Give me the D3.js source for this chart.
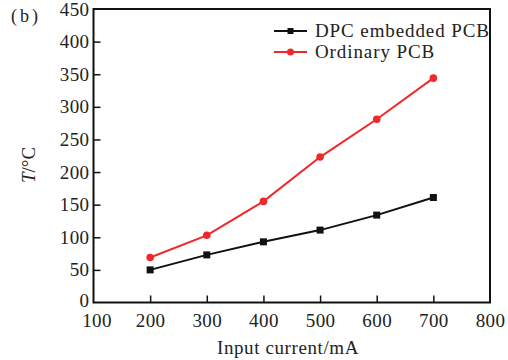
<!DOCTYPE html>
<html><head><meta charset="utf-8">
<script src="https://cdn.jsdelivr.net/npm/d3@7"></script>
<style>body{margin:0;background:#fff}svg{display:block}text{font-family:"Liberation Serif","DejaVu Serif",serif;fill:#222}</style>
</head><body><svg id="c" width="508" height="360"></svg>
<script>
const currents = [200, 300, 400, 500, 600, 700];
const dpcTemps = [50, 73, 93, 111, 134, 161];
const ordinaryTemps = [69, 103, 155, 223, 281, 344];
const xTicks = [100, 200, 300, 400, 500, 600, 700, 800];
const yTicks = [0, 50, 100, 150, 200, 250, 300, 350, 400, 450];
const seriesNames = ["DPC embedded PCB", "Ordinary PCB"];

const svg = d3.select("#c");
const L = 93.5, R = 490, T = 9, B = 302.5;
const x = d3.scaleLinear().domain([100, 800]).range([L, R]);
const y = d3.scaleLinear().domain([0, 450]).range([B, T]);

svg.append("rect").attr("x", L).attr("y", T).attr("width", R - L).attr("height", B - T)
  .attr("fill", "none").attr("stroke", "#111").attr("stroke-width", 2);

const xa = svg.append("g").attr("transform", `translate(0,${B})`)
  .call(d3.axisBottom(x).tickValues(xTicks).tickSizeInner(-7).tickSizeOuter(0).tickPadding(10));
xa.select(".domain").remove();
xa.selectAll(".tick line").attr("stroke", "#111").attr("stroke-width", 1.5)
  .filter(d => d === 100 || d === 800).remove();
xa.selectAll(".tick text").attr("font-size", 19).attr("fill", "#222")
  .attr("font-family", "Liberation Serif, serif").attr("letter-spacing", 0.4).attr("dy", "0.78em");
xa.selectAll(".tick text").filter(d => d === 100).attr("dx", 3);

const ya = svg.append("g").attr("transform", `translate(${L},0)`)
  .call(d3.axisLeft(y).tickValues(yTicks).tickSizeInner(-7).tickSizeOuter(0).tickPadding(4));
ya.select(".domain").remove();
ya.selectAll(".tick line").attr("stroke", "#111").attr("stroke-width", 1.5)
  .filter(d => d === 0 || d === 450).remove();
ya.selectAll(".tick text").attr("font-size", 19).attr("fill", "#222")
  .attr("font-family", "Liberation Serif, serif").attr("letter-spacing", 0.4).attr("dy", "0.32em");
ya.selectAll(".tick text").filter(d => d === 0).attr("dy", "0.2em");

const line = d3.line().x(d => x(d[0])).y(d => y(d[1]));
const dpc = currents.map((c, i) => [c, dpcTemps[i]]);
const ord = currents.map((c, i) => [c, ordinaryTemps[i]]);

svg.append("path").datum(dpc).attr("d", line).attr("fill", "none").attr("stroke", "#111").attr("stroke-width", 2);
svg.selectAll(".sq").data(dpc).enter().append("rect")
  .attr("x", d => x(d[0]) - 3.5).attr("y", d => y(d[1]) - 3.5).attr("width", 7).attr("height", 7).attr("fill", "#111");

svg.append("path").datum(ord).attr("d", line).attr("fill", "none").attr("stroke", "#f0282a").attr("stroke-width", 2);
svg.selectAll(".ci").data(ord).enter().append("circle")
  .attr("cx", d => x(d[0])).attr("cy", d => y(d[1])).attr("r", 3.8).attr("fill", "#f0282a");

const lg = svg.append("g");
const legColors = ["#111", "#f0282a"];
seriesNames.forEach((n, i) => {
  const yy = 31 + i * 21;
  lg.append("line").attr("x1", 274).attr("x2", 307).attr("y1", yy).attr("y2", yy)
    .attr("stroke", legColors[i]).attr("stroke-width", 2);
  if (i === 0) lg.append("rect").attr("x", 287.5).attr("y", yy - 3).attr("width", 6).attr("height", 6).attr("fill", legColors[i]);
  else lg.append("circle").attr("cx", 290.5).attr("cy", yy).attr("r", 3.5).attr("fill", legColors[i]);
  lg.append("text").attr("x", 315).attr("y", yy + 6).attr("font-size", 19).attr("letter-spacing", 0.9).text(n);
});

svg.append("text").attr("x", 288).attr("y", 354).attr("text-anchor", "middle").attr("font-size", 19)
  .attr("letter-spacing", 0.6).text("Input current/mA");
svg.append("text").attr("transform", "translate(35,165) rotate(-90)").attr("text-anchor", "middle")
  .attr("font-size", 19).html('<tspan font-style="italic">T</tspan>/°C');
svg.append("text").attr("x", 11).attr("y", 22).attr("font-size", 18).attr("letter-spacing", 3).text("(b)");
</script></body></html>
